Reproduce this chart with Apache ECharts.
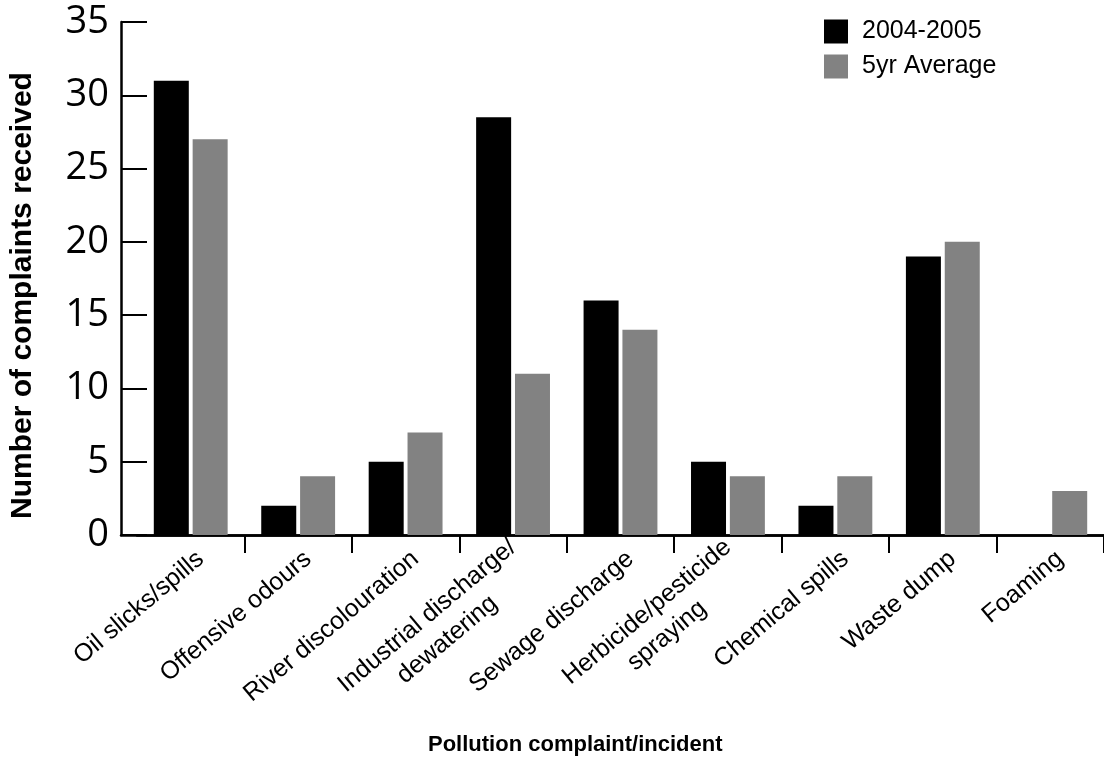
<!DOCTYPE html>
<html>
<head>
<meta charset="utf-8">
<script src="https://cdn.jsdelivr.net/npm/echarts@6/dist/echarts.min.js"></script>
<style>
html,body{margin:0;padding:0;background:#fff;}
#chart{width:1104px;height:760px;}
</style>
</head>
<body>
<div id="chart"></div>
<script>
const categories = [
  'Oil slicks/spills',
  'Offensive odours',
  'River discolouration',
  'Industrial discharge/\ndewatering',
  'Sewage discharge',
  'Herbicide/pesticide\nspraying',
  'Chemical spills',
  'Waste dump',
  'Foaming'
];
const seriesNames = ['2004-2005', '5yr Average'];
const values2004 = [31, 2, 5, 28.5, 16, 5, 2, 19, 0];
const valuesAvg = [27, 4, 7, 11, 14, 4, 4, 20, 3];
const yTicks = [0, 5, 10, 15, 20, 25, 30, 35];

const FONT = '"Liberation Sans", Arial, Helvetica, sans-serif';
const chart = echarts.init(document.getElementById('chart'), null, {renderer: 'canvas'});

const option = {
  backgroundColor: '#ffffff',
  animation: false,
  title: {
    text: 'Pollution complaint/incident',
    left: 428,
    top: 734,
    padding: 0,
    textStyle: {fontFamily: FONT, fontSize: 22, fontWeight: 'bold', color: '#000'}
  },
  legend: {
    orient: 'vertical',
    left: 824,
    top: 19,
    padding: 0,
    itemWidth: 24,
    itemHeight: 24,
    itemGap: 10,
    icon: 'rect',
    data: seriesNames,
    textStyle: {fontFamily: FONT, fontSize: 25, color: '#000', padding: [0, 0, 0, 9]}
  },
  grid: [
    {left: 137, right: -5, top: 22, bottom: 225},
    {left: 118, right: -5, top: 22, bottom: 225}
  ],
  xAxis: [
    {
      type: 'category',
      gridIndex: 0,
      data: categories,
      axisLine: {show: true, lineStyle: {color: '#000', width: 2.5}},
      axisTick: {
        show: true, length: 18, lineStyle: {color: '#000', width: 2},
        interval: function (index) { return index !== 0; }
      },
      axisLabel: {
        interval: 0,
        rotate: 40,
        margin: 9,
        color: '#000',
        fontFamily: FONT,
        fontSize: 25,
        formatter: function (v) {
          return '{c| }\n' + v.split('\n').map(function (s) { return '{c|' + s + '}'; }).join('\n');
        },
        rich: {
          c: {align: 'center', fontFamily: FONT, fontSize: 25, color: '#000', lineHeight: 31}
        }
      },
      splitLine: {show: false}
    },
    {
      type: 'value',
      gridIndex: 1,
      min: 0,
      max: 1,
      axisLine: {show: true, onZero: false, lineStyle: {color: '#000', width: 2.5}},
      axisTick: {show: false},
      axisLabel: {show: false},
      splitLine: {show: false}
    }
  ],
  yAxis: [
    {
      type: 'value',
      gridIndex: 0,
      min: 0,
      max: 35,
      interval: 5,
      show: false
    },
    {
      type: 'value',
      gridIndex: 1,
      min: yTicks[0],
      max: yTicks[yTicks.length - 1],
      interval: 5,
      name: 'Number of complaints received',
      nameLocation: 'middle',
      nameGap: 83,
      nameTextStyle: {fontFamily: FONT, fontSize: 30, fontWeight: 'bold', color: '#000', padding: [0, 34, 0, 0]},
      axisLine: {show: true, lineStyle: {color: '#000', width: 2.5}},
      axisTick: {show: true, inside: true, length: 26, lineStyle: {color: '#000', width: 2}},
      axisLabel: {
        color: '#000',
        fontFamily: '"Open Sans", "DejaVu Sans", sans-serif',
        fontSize: 38,
        margin: 12
      },
      splitLine: {show: false}
    }
  ],
  series: [
    {
      name: seriesNames[0],
      type: 'bar',
      xAxisIndex: 0,
      yAxisIndex: 0,
      data: values2004,
      barWidth: 35,
      barGap: '11%',
      itemStyle: {color: '#000000'}
    },
    {
      name: seriesNames[1],
      type: 'bar',
      xAxisIndex: 0,
      yAxisIndex: 0,
      data: valuesAvg,
      barWidth: 35,
      barGap: '11%',
      itemStyle: {color: '#828282'}
    }
  ]
};
chart.setOption(option);
</script>
</body>
</html>
